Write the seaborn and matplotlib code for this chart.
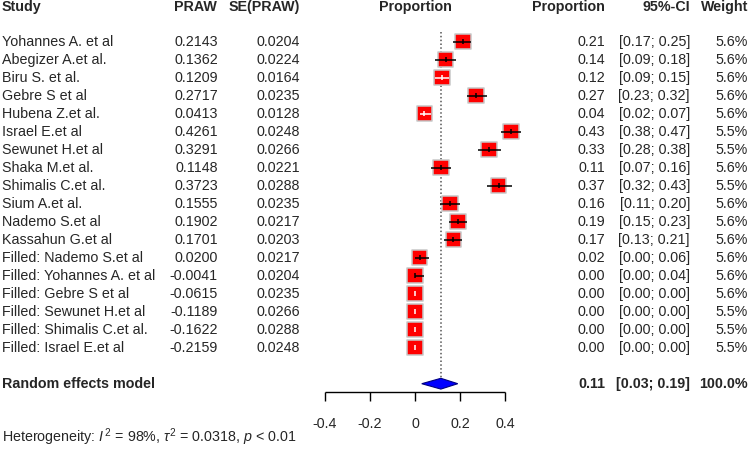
import numpy as np
import pandas as pd
import matplotlib
matplotlib.use("Agg")
import matplotlib.pyplot as plt
import seaborn as sns

# study level data
studies = ["Yohannes A. et al", "Abegizer A.et al.", "Biru S. et al.", "Gebre S et al",
           "Hubena Z.et al.", "Israel E.et al", "Sewunet H.et al", "Shaka M.et al.",
           "Shimalis C.et al.", "Sium A.et al.", "Nademo S.et al", "Kassahun G.et al",
           "Filled: Nademo S.et al", "Filled: Yohannes A. et al", "Filled: Gebre S et al",
           "Filled: Sewunet H.et al", "Filled: Shimalis C.et al.", "Filled: Israel E.et al"]
praw = [0.2143, 0.1362, 0.1209, 0.2717, 0.0413, 0.4261, 0.3291, 0.1148, 0.3723,
        0.1555, 0.1902, 0.1701, 0.0200, -0.0041, -0.0615, -0.1189, -0.1622, -0.2159]
se_praw = [0.0204, 0.0224, 0.0164, 0.0235, 0.0128, 0.0248, 0.0266, 0.0221, 0.0288,
           0.0235, 0.0217, 0.0203, 0.0217, 0.0204, 0.0235, 0.0266, 0.0288, 0.0248]
prop = [0.21, 0.14, 0.12, 0.27, 0.04, 0.43, 0.33, 0.11, 0.37,
        0.16, 0.19, 0.17, 0.02, 0.00, 0.00, 0.00, 0.00, 0.00]
ci_low = [0.17, 0.09, 0.09, 0.23, 0.02, 0.38, 0.28, 0.07, 0.32,
          0.11, 0.15, 0.13, 0.00, 0.00, 0.00, 0.00, 0.00, 0.00]
ci_high = [0.25, 0.18, 0.15, 0.32, 0.07, 0.47, 0.38, 0.16, 0.43,
           0.20, 0.23, 0.21, 0.06, 0.04, 0.00, 0.00, 0.00, 0.00]
weights = [5.6, 5.6, 5.6, 5.6, 5.6, 5.5, 5.5, 5.6, 5.5,
           5.6, 5.6, 5.6, 5.6, 5.6, 5.6, 5.5, 5.5, 5.5]

# random effects summary
re_est, re_low, re_high = 0.115, 0.03, 0.19
re_text = ["0.11", "[0.03; 0.19]", "100.0%"]
het_text = r"Heterogeneity: $\mathit{I}^{\,2}$ = 98%, $\tau^{2}$ = 0.0318, $\mathit{p}$ < 0.01"

xticks = [-0.4, -0.2, 0, 0.2, 0.4]
xtick_labels = ["-0.4", "-0.2", "0", "0.2", "0.4"]

df = pd.DataFrame({"study": studies, "praw": praw, "se": se_praw, "prop": prop,
                   "lo": ci_low, "hi": ci_high, "w": weights})
df["row"] = np.arange(len(df))
df["est"] = df["praw"].clip(lower=0)

sns.set_style("white")
plt.rcParams["font.family"] = ["Liberation Sans", "DejaVu Sans"]
plt.rcParams["mathtext.fontset"] = "custom"
plt.rcParams["mathtext.rm"] = "Liberation Sans"
plt.rcParams["mathtext.it"] = "Liberation Sans:italic"

W, H = 750, 449
fig = plt.figure(figsize=(W / 100, H / 100), dpi=100)
ax = fig.add_axes([0, 0, 1, 1])
ax.set_axis_off()

# pixel mapping: x_px = 415 + 225*v, y_px = 41.7 + 18*row
x0, xs = 415, 225
y0, ys = 41.7, 18
ax.set_xlim((0 - x0) / xs, (W - x0) / xs)
ax.set_ylim((H - y0) / ys, (0 - y0) / ys)

fs = 10.3
trans = ax.get_yaxis_transform()
px = lambda p: p / W

header_row = -1.93
re_row = 19
axis_row = 19.46

# headers
ax.text(px(2), header_row, "Study", transform=trans, ha="left", va="center", fontsize=fs, fontweight="bold")
ax.text(px(217), header_row, "PRAW", transform=trans, ha="right", va="center", fontsize=fs, fontweight="bold")
ax.text(px(300), header_row, "SE(PRAW)", transform=trans, ha="right", va="center", fontsize=fs, fontweight="bold")
ax.text(0, header_row, "Proportion", ha="center", va="center", fontsize=fs, fontweight="bold")
ax.text(px(605), header_row, "Proportion", transform=trans, ha="right", va="center", fontsize=fs, fontweight="bold")
ax.text(px(690), header_row, "95%-CI", transform=trans, ha="right", va="center", fontsize=fs, fontweight="bold")
ax.text(px(748), header_row, "Weight", transform=trans, ha="right", va="center", fontsize=fs, fontweight="bold")

# table columns
for _, r in df.iterrows():
    y = r["row"]
    ax.text(px(2), y, r["study"], transform=trans, ha="left", va="center", fontsize=fs)
    ax.text(px(218), y, f"{r['praw']:.4f}", transform=trans, ha="right", va="center", fontsize=fs)
    ax.text(px(300), y, f"{r['se']:.4f}", transform=trans, ha="right", va="center", fontsize=fs)
    ax.text(px(605), y, f"{r['prop']:.2f}", transform=trans, ha="right", va="center", fontsize=fs)
    ax.text(px(690), y, f"[{r['lo']:.2f}; {r['hi']:.2f}]", transform=trans, ha="right", va="center", fontsize=fs)
    ax.text(px(748), y, f"{r['w']:.1f}%", transform=trans, ha="right", va="center", fontsize=fs)

# random effects row
ax.text(px(2), re_row, "Random effects model", transform=trans, ha="left", va="center", fontsize=fs, fontweight="bold")
ax.text(px(605), re_row, re_text[0], transform=trans, ha="right", va="center", fontsize=fs, fontweight="bold")
ax.text(px(690), re_row, re_text[1], transform=trans, ha="right", va="center", fontsize=fs, fontweight="bold")
ax.text(px(748), re_row, re_text[2], transform=trans, ha="right", va="center", fontsize=fs, fontweight="bold")

# heterogeneity
ax.text(px(2), 21.95, het_text, transform=trans, ha="left", va="center", fontsize=fs)

# dotted line at the pooled estimate
ax.vlines(re_est, -0.55, re_row - 0.3, colors="#555555", linestyles=(0, (1, 1.5)), linewidth=1.1, zorder=1)

# squares (marker side in px, scaled so the drawn square is ~15 px)
side_px = 13.5
s_max = (side_px * 0.72 * 1.15) ** 2
sns.scatterplot(data=df, x="est", y="row", size="w", sizes=(s_max * 5.5 / 5.6, s_max),
                size_norm=(5.5, 5.6), marker="s", color="red", edgecolor="#C8C8C8",
                linewidth=1.1, legend=False, ax=ax, zorder=3)

# confidence intervals: white when inside the square
half = (side_px / 2 + 1) / xs
inside = ((df["est"] - df["lo"]) <= half) & ((df["hi"] - df["est"]) <= half)
line_col = np.where(inside, "white", "black")
ax.hlines(df["row"], df["lo"], df["hi"], colors=line_col, linewidth=1.1, zorder=4)
ax.vlines(df["est"], df["row"] - 0.15, df["row"] + 0.15, colors=line_col, linewidth=1.1, zorder=4)

# pooled diamond
dh = 0.3
ax.fill([re_low, re_est, re_high, re_est], [re_row, re_row - dh, re_row, re_row + dh],
        facecolor="blue", edgecolor="#000080", linewidth=0.8, zorder=3)

# x axis
ax.hlines(axis_row, xticks[0], xticks[-1], colors="black", linewidth=1)
ax.vlines(xticks, axis_row, axis_row + 0.52, colors="black", linewidth=1)
for t, lab in zip(xticks, xtick_labels):
    ax.text(t, 21.25, lab, ha="center", va="center", fontsize=fs)

fig.savefig("out.png", dpi=100)
